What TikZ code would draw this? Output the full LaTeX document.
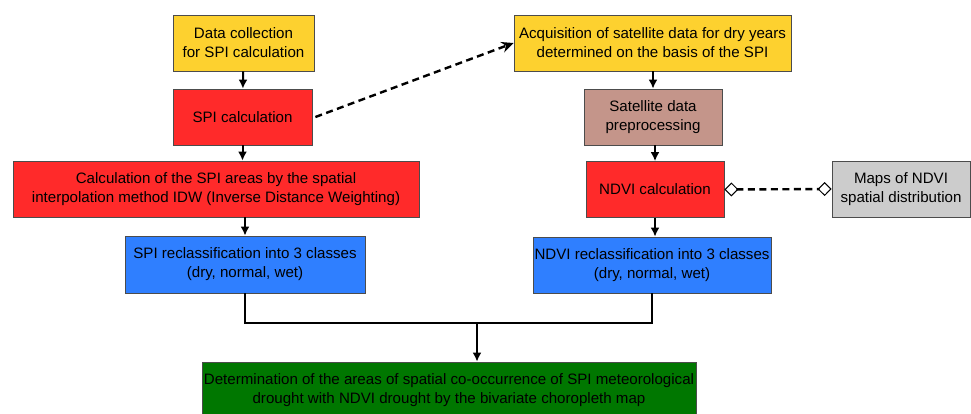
\documentclass[tikz,border=0pt]{standalone}
\usepackage{fontspec}
\setmainfont{Liberation Sans}
\usetikzlibrary{arrows.meta}
\definecolor{boxyellow}{HTML}{FDD12F}
\definecolor{boxred}{HTML}{FF2A2A}
\definecolor{boxbrown}{HTML}{C4958A}
\definecolor{boxgray}{HTML}{CCCCCC}
\definecolor{boxblue}{HTML}{2F7FFF}
\definecolor{boxgreen}{HTML}{007700}
\tikzset{
  box/.style={draw=black!70,line width=0.8pt,minimum height=56pt,align=center,
    font=\fontsize{15.1}{19}\selectfont,inner xsep=1pt,inner ysep=2pt},
  flow/.style={line width=2pt,-{Latex[length=9pt,width=9pt]}},
  link/.style={line width=2.4pt,dash pattern=on 7pt off 4.5pt},
}

\begin{document}
\begin{tikzpicture}[x=1pt,y=-1pt]
          \useasboundingbox (0,0) rectangle (971,413);
          \node[box,fill=boxyellow,minimum width=141pt] (data) at (243.5,43){Data collection\\for SPI calculation};
          \node[box,fill=boxred,minimum width=139pt] (spicalc) at (242.5,117){SPI calculation};
          \node[box,fill=boxred,minimum width=406pt] (areas) at (216,189){Calculation of the SPI areas by the spatial\\interpolation method IDW (Inverse Distance Weighting)};
          \node[box,fill=boxblue,minimum width=240pt,minimum height=57pt] (spiclass) at (245,264.5){SPI reclassification into 3 classes\\(dry, normal, wet)};
          \node[box,fill=boxyellow,minimum width=277pt] (acq) at (652.5,43){Acquisition of satellite data for dry years\\determined on the basis of the SPI};
          \node[box,fill=boxbrown,minimum width=138pt] (sat) at (653,117){Satellite data\\preprocessing};
          \node[box,fill=boxred,minimum width=138pt] (ndvicalc) at (655,189.5){NDVI calculation};
          \node[box,fill=boxgray,minimum width=138pt] (maps) at (901,189){Maps of NDVI\\spatial distribution};
          \node[box,fill=boxblue,minimum width=238pt] (ndviclass) at (652,265){NDVI reclassification into 3 classes\\(dry, normal, wet)};
          \node[box,fill=boxgreen,minimum width=494pt] (result) at (449,390){Determination of the areas of spatial co-occurrence of SPI meteorological\\drought with NDVI drought by the bivariate choropleth map};
          \coordinate (join) at (477,323);
          \draw[flow] (data) -- (spicalc);
          \draw[flow] (spicalc.south) -- (spicalc.south |- areas.north);
          \draw[flow] (spiclass.north |- areas.south) -- (spiclass.north);
          \draw[flow] (acq.south -| sat) -- (sat);
          \draw[flow] (sat.south -| ndvicalc) -- (ndvicalc);
          \draw[flow] (ndvicalc.south) -- (ndvicalc.south |- ndviclass.north);
          \draw[link,-{Stealth[length=12pt,width=11pt]}] ([xshift=3pt]spicalc.east) -- (acq.west);
          \draw[link,{Diamond[open,length=14pt,width=14pt,line width=1pt]}-{Diamond[open,length=14pt,width=14pt,line width=1pt]}] (ndvicalc.east) -- (maps.west);
          \draw[line width=2.6pt] (spiclass.south) |- (join) -| (ndviclass.south);
          \draw[flow,line width=2.4pt] (join) -- (join |- result.north);
        \end{tikzpicture}
\end{document}
